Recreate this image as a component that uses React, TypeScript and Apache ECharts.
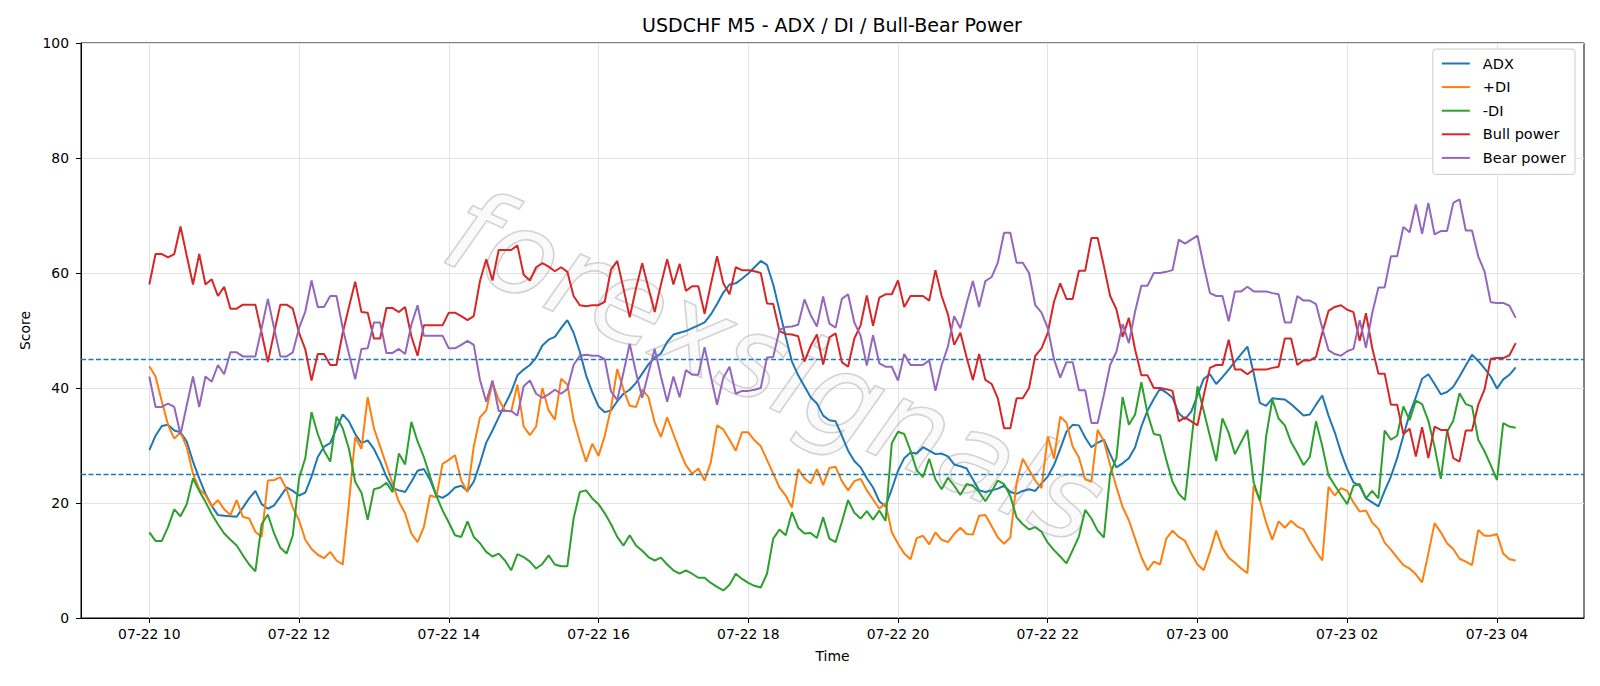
import React, { useEffect, useRef } from 'react';
import * as echarts from 'echarts';

// x positions are 5-minute bar indices starting at 07-22 10:00
const tickIndex = [0, 24, 48, 72, 96, 120, 144, 168, 192, 216];
const tickLabels = ['07-22 10', '07-22 12', '07-22 14', '07-22 16', '07-22 18', '07-22 20', '07-22 22', '07-23 00', '07-23 02', '07-23 04'];
const thresholds = [45, 25];
const seriesNames = ['ADX', '+DI', '-DI', 'Bull power', 'Bear power'];
const seriesColors = ['#1f77b4', '#ff7f0e', '#2ca02c', '#d62728', '#9467bd'];

const adx = [29.2,31.7,33.4,33.6,32.6,32.3,30.7,27.2,24.3,21.6,
19.5,17.9,17.8,17.7,17.6,19.2,20.8,22.1,19.8,19.0,
19.6,21.1,22.7,22.1,21.3,21.8,24.6,28.0,29.8,30.4,
33.0,35.4,34.2,32.0,30.4,30.9,29.4,27.2,24.6,22.6,
22.2,21.9,23.7,25.6,25.9,24.0,21.3,20.9,21.6,22.7,
23.0,22.1,23.7,26.9,30.5,32.6,34.9,37.1,39.3,42.2,
43.2,44.0,45.3,47.4,48.4,48.9,50.4,51.8,49.6,46.3,
42.2,39.3,36.8,35.8,36.1,37.7,39.0,39.7,40.9,42.5,
44.1,45.3,46.0,48.0,49.3,49.6,49.9,50.4,50.9,51.4,
52.8,54.6,56.6,58.0,58.2,59.0,59.9,61.0,62.1,61.4,
58.0,53.5,48.9,44.6,42.2,40.3,38.4,37.3,35.2,34.4,
34.2,31.7,29.1,27.3,26.2,24.3,22.7,20.3,19.4,22.4,
25.6,27.8,28.8,28.6,29.7,29.1,28.5,28.6,28.1,26.7,
26.4,26.0,24.1,22.2,21.9,22.2,22.5,23.0,21.9,21.6,
22.1,22.4,22.1,23.4,24.6,26.6,29.4,32.4,33.6,33.5,
31.4,29.7,30.5,31.0,28.5,26.2,26.9,27.8,29.7,33.3,
36.1,38.1,39.9,39.2,38.3,35.6,34.6,35.9,38.7,41.6,
42.4,40.7,41.9,43.2,44.6,45.9,47.2,42.6,37.4,36.9,
38.2,38.1,38.0,37.2,36.2,35.2,35.4,37.1,38.7,35.2,
32.3,28.8,25.9,23.6,23.0,20.8,20.1,19.4,22.1,24.6,
27.8,31.7,35.5,38.4,41.6,42.4,40.7,38.9,39.3,40.2,
42.0,43.9,45.8,44.7,43.4,42.0,39.9,41.5,42.3,43.6];

const plusDi = [43.8,42.0,37.7,33.6,31.2,32.3,29.7,25.1,22.4,21.4,
19.4,20.5,18.9,17.9,20.5,17.6,17.3,15.0,14.1,23.9,
24.0,24.5,22.4,19.2,17.0,13.6,12.0,11.0,10.4,11.5,
10.0,9.3,20.0,31.5,29.4,38.4,33.0,29.8,26.6,23.4,
20.2,18.2,14.7,13.2,15.8,21.3,21.0,26.8,27.5,28.3,
23.9,21.9,29.8,34.9,36.1,40.9,38.0,36.1,35.9,40.6,
33.3,31.8,33.3,40.0,36.1,34.5,41.6,40.6,34.5,30.7,
27.2,30.3,28.2,31.7,36.5,43.3,39.7,36.9,36.7,39.7,
38.4,34.0,31.5,34.9,32.0,29.1,26.6,25.1,26.0,23.9,
27.1,33.5,32.8,31.0,29.1,32.3,32.3,30.9,29.9,27.5,
25.1,22.7,21.3,19.2,25.9,24.3,23.4,25.9,23.1,26.1,
26.3,23.8,22.2,23.8,24.2,22.2,20.6,19.0,20.0,14.9,
12.9,11.2,10.2,13.9,14.3,12.8,14.9,13.6,13.2,14.6,
15.7,14.6,14.5,17.8,17.9,16.0,14.0,12.9,14.0,23.5,
27.7,25.8,23.9,22.6,31.6,27.7,35.0,34.0,29.8,27.9,
24.1,23.7,32.7,30.8,26.6,22.8,19.3,17.0,13.8,10.6,
8.3,9.8,9.3,13.8,15.2,14.1,13.4,11.2,9.3,8.3,
11.5,15.2,12.2,10.5,9.6,8.6,7.8,23.0,20.5,16.6,
13.6,16.8,15.7,16.9,15.9,15.4,13.4,11.6,10.0,22.8,
21.3,22.6,22.1,20.1,18.5,18.7,16.6,15.5,13.1,11.9,
10.5,9.2,8.6,7.6,6.2,11.2,16.5,14.9,13.0,12.0,
10.3,9.8,9.2,15.3,14.3,14.3,14.6,11.2,10.2,10.0];

const minusDi = [14.9,13.4,13.4,15.8,18.9,17.7,19.8,24.3,22.1,20.2,
18.1,16.3,14.7,13.6,12.6,10.9,9.3,8.1,16.3,18.0,
14.7,12.2,11.2,14.4,24.3,27.8,35.8,32.0,29.1,27.2,
35.0,33.0,29.4,23.7,21.8,17.1,22.4,22.7,23.5,21.9,
28.6,26.7,34.1,30.7,28.0,24.6,21.3,18.7,16.6,14.4,
14.1,16.8,14.1,13.0,11.5,10.7,11.2,10.0,8.3,11.1,
10.6,9.8,8.6,9.4,10.9,9.3,9.0,9.0,17.3,21.9,
22.2,20.8,19.8,18.2,16.3,14.1,12.6,14.4,12.6,11.7,
10.6,10.0,10.5,9.3,8.3,7.7,8.3,7.7,7.0,7.0,
6.1,5.4,4.8,5.8,7.7,6.8,6.1,5.6,5.3,7.7,
13.8,15.4,14.4,18.4,15.7,14.7,14.8,13.9,17.5,13.8,
13.2,16.7,20.5,18.3,17.3,18.6,17.1,18.7,16.9,30.4,
32.4,32.0,29.1,25.7,24.5,27.7,24.1,22.4,24.4,23.0,
21.4,23.3,23.0,21.9,20.3,22.0,23.9,23.3,21.2,17.5,
16.3,15.4,15.8,15.0,13.1,11.8,10.7,9.5,11.8,14.2,
18.8,17.3,15.2,14.0,25.0,27.8,38.4,33.6,35.4,41.0,
35.5,32.0,31.8,27.5,23.7,21.6,20.5,30.4,40.3,36.0,
31.6,27.3,34.7,32.2,28.5,30.6,32.7,23.6,20.4,31.6,
38.0,34.7,33.5,30.6,28.7,26.6,28.0,34.2,29.9,24.8,
23.1,21.4,19.8,23.0,23.3,20.8,22.1,20.8,32.6,31.0,
31.7,36.8,34.4,37.8,37.2,34.3,29.8,24.2,32.4,34.3,
39.1,37.2,36.8,31.0,29.0,26.6,24.0,33.9,33.3,33.1];

const bullPower = [58.0,63.3,63.3,62.7,63.3,68.1,63.0,58.0,63.3,58.0,
58.9,56.0,57.6,53.8,53.8,54.5,54.5,54.5,49.6,44.5,
49.6,54.5,54.5,53.8,49.6,46.7,41.3,45.9,45.9,44.0,
44.0,49.6,54.1,58.5,53.2,53.1,48.6,48.6,53.9,53.9,
53.2,54.1,49.0,45.6,50.9,50.9,50.9,50.9,53.1,53.1,
52.5,51.8,52.5,58.6,62.4,58.7,64.0,64.0,64.0,64.8,
59.7,58.7,61.0,61.7,61.1,60.3,61.0,60.2,56.0,54.4,
54.2,54.4,54.4,55.0,60.6,62.1,57.3,52.3,57.3,61.7,
57.4,53.2,58.0,62.4,58.0,61.6,56.9,57.7,57.7,52.9,
58.0,62.9,58.2,56.3,61.0,60.5,60.5,60.3,60.0,54.7,
54.6,49.9,49.4,49.3,49.0,44.6,47.3,49.3,44.1,48.8,
49.5,44.5,43.7,48.6,50.9,56.1,50.8,55.7,56.3,56.3,
58.7,54.1,56.0,56.0,56.0,55.2,60.5,56.0,52.8,47.5,
49.6,45.3,41.4,45.9,41.4,40.7,38.2,33.0,33.0,38.2,
38.2,40.0,45.6,46.9,49.6,55.0,58.2,55.5,55.5,60.4,
60.4,66.1,66.1,61.2,56.0,53.7,48.9,52.2,46.7,42.2,
42.2,40.0,40.0,39.8,39.5,34.2,34.9,34.2,33.5,38.7,
43.5,44.0,44.0,48.4,43.2,43.2,42.4,43.2,43.2,43.2,
43.5,43.7,48.6,48.6,44.0,44.8,44.8,45.4,49.6,53.4,
54.1,54.4,53.6,53.2,48.2,53.0,47.0,42.5,42.5,37.1,
37.1,32.0,32.9,28.1,33.2,27.8,33.3,32.7,32.7,27.8,
27.2,32.6,32.6,37.1,39.7,45.1,45.2,45.2,45.7,47.8];

const bearPower = [42.0,36.7,36.7,37.3,36.7,31.9,37.0,42.0,36.7,42.0,
41.1,44.0,42.4,46.2,46.2,45.5,45.5,45.5,50.4,55.5,
50.4,45.5,45.5,46.2,50.4,53.3,58.7,54.1,54.1,56.0,
56.0,50.4,45.9,41.5,46.8,46.9,51.4,51.4,46.1,46.1,
46.8,45.9,51.0,54.4,49.1,49.1,49.1,49.1,46.9,46.9,
47.5,48.2,47.5,41.4,37.6,41.3,36.0,36.0,36.0,35.2,
40.3,41.3,39.0,38.3,38.9,39.7,39.0,39.8,44.0,45.6,
45.8,45.6,45.6,45.0,39.4,37.9,42.7,47.7,42.7,38.3,
42.6,46.8,42.0,37.6,42.0,38.4,43.1,42.3,42.3,47.1,
42.0,37.1,41.8,43.7,39.0,39.5,39.5,39.7,40.0,45.3,
45.4,50.1,50.6,50.7,51.0,55.4,52.7,50.7,55.9,51.2,
50.5,55.5,56.3,51.4,49.1,43.9,49.2,44.3,43.7,43.7,
41.3,45.9,44.0,44.0,44.0,44.8,39.5,44.0,47.2,52.5,
50.4,54.7,58.6,54.1,58.6,59.3,61.8,67.0,67.0,61.8,
61.8,60.0,54.4,53.1,50.4,45.0,41.8,44.5,44.5,39.6,
39.6,33.9,33.9,38.8,44.0,46.3,51.1,47.8,53.3,57.8,
57.8,60.0,60.0,60.2,60.5,65.8,65.1,65.8,66.5,61.3,
56.5,56.0,56.0,51.6,56.8,56.8,57.6,56.8,56.8,56.8,
56.5,56.3,51.4,51.4,56.0,55.2,55.2,54.6,50.4,46.6,
45.9,45.6,46.4,46.8,51.8,47.0,53.0,57.5,57.5,62.9,
62.9,68.0,67.1,71.9,66.8,72.2,66.7,67.3,67.3,72.2,
72.8,67.4,67.4,62.9,60.3,54.9,54.8,54.8,54.3,52.2];

const FONT = '"DejaVu Sans", "Liberation Sans", sans-serif';

export default function App() {
  const ref = useRef<HTMLDivElement>(null);
  useEffect(() => {
    if (!ref.current) return;
    const chart = echarts.init(ref.current, null, { renderer: 'svg' });
    const toPts = (arr: number[]) => arr.map((v, i) => [i, v]);
    const allData = [adx, plusDi, minusDi, bullPower, bearPower];
    const n = adx.length;
    const pad = (n - 1) * 0.05;
    const series: any[] = allData.map((arr, k) => ({
      name: seriesNames[k],
      type: 'line',
      data: toPts(arr),
      symbol: 'none',
      showSymbol: false,
      z: 3 + k,
      lineStyle: { width: 2, color: seriesColors[k] },
      itemStyle: { color: seriesColors[k] },
    }));
    series[0].markLine = {
      symbol: 'none',
      silent: true,
      label: { show: false },
      lineStyle: { color: '#1f77b4', type: [5, 2.5], width: 1.3 },
      data: thresholds.map((t) => ({ yAxis: t })),
    };
    chart.setOption({
      animation: false,
      backgroundColor: '#ffffff',
      textStyle: { fontFamily: FONT },
      grid: {
        left: 81, right: 16, top: 43, bottom: 68,
        show: true, borderColor: '#000', borderWidth: 1,
        containLabel: false,
      },
      graphic: [
        {
          type: 'text', x: 832, y: 25, z: 10,
          style: {
            text: 'USDCHF M5 - ADX / DI / Bull-Bear Power',
            font: `19px ${FONT}`, fill: '#000', align: 'center', verticalAlign: 'middle',
          },
        },
        {
          type: 'text', x: 775, y: 366, rotation: -0.42, z: 1, silent: true,
          style: {
            text: 'forexsignals',
            font: `italic 116px ${FONT}`,
            fill: 'rgba(240,240,240,0.3)',
            stroke: 'rgba(165,165,165,0.55)', lineWidth: 1.6,
            align: 'center', verticalAlign: 'middle',
          },
        },
      ],
      legend: {
        data: seriesNames.map((nm) => ({ name: nm, icon: 'rect' })),
        orient: 'vertical',
        right: 25, top: 49,
        itemWidth: 28, itemHeight: 2, itemGap: 8.6,
        padding: [7, 9, 9, 9],
        backgroundColor: 'rgba(255,255,255,0.85)',
        borderColor: '#cccccc', borderWidth: 1, borderRadius: 3,
        textStyle: { fontSize: 14.5, color: '#000', fontFamily: FONT, padding: [0, 0, 0, 8] },
      },
      xAxis: {
        type: 'value',
        min: -pad, max: n - 1 + pad,
        name: 'Time', nameLocation: 'middle', nameGap: 31,
        nameTextStyle: { fontSize: 13.9, color: '#000', fontFamily: FONT },
        axisLine: { show: true, onZero: false, lineStyle: { color: '#000', width: 1 } },
        axisTick: { show: true, customValues: tickIndex, length: 5, lineStyle: { color: '#000' } },
        axisLabel: {
          customValues: tickIndex,
          formatter: (v: number) => { const k = tickIndex.indexOf(Math.round(v)); return k >= 0 ? tickLabels[k] : ''; },
          fontSize: 13.9, color: '#000', margin: 9, fontFamily: FONT,
        },
        splitLine: { show: true, lineStyle: { color: '#e3e3e3', width: 1 } },
      },
      yAxis: {
        type: 'value', min: 0, max: 100, interval: 20,
        name: 'Score', nameLocation: 'middle', nameGap: 48,
        nameTextStyle: { fontSize: 13.9, color: '#000', fontFamily: FONT },
        axisLine: { show: true, onZero: false, lineStyle: { color: '#000', width: 1 } },
        axisTick: { show: true, length: 5, lineStyle: { color: '#000' } },
        axisLabel: { fontSize: 13.9, color: '#000', margin: 12, fontFamily: FONT },
        splitLine: { show: true, lineStyle: { color: '#e3e3e3', width: 1 } },
      },
      series,
    });
    return () => chart.dispose();
  }, []);
  return <div ref={ref} style={{ position: 'absolute', left: 0, top: 0, width: 1600, height: 686 }} />;
}
